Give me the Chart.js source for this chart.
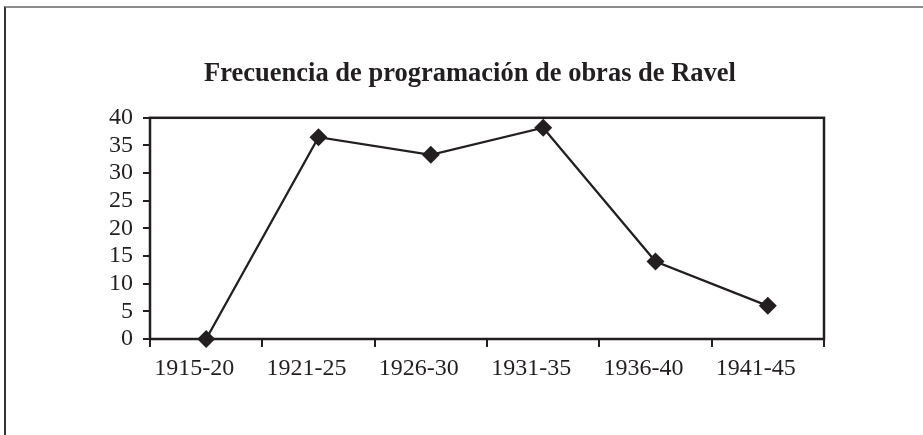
<!DOCTYPE html>
<html>
<head>
<meta charset="utf-8">
<script src="https://cdn.jsdelivr.net/npm/chart.js@4"></script>
<style>
  html, body { margin: 0; padding: 0; background: #ffffff; }
  #wrap { position: relative; width: 923px; height: 435px; }
  #frame { position: absolute; left: 4px; top: 6px; right: 0; bottom: 0;
           border-top: 2px solid #8c8c8c; border-left: 2px solid #333333; }
  canvas { position: absolute; left: 0; top: 0; }
</style>
</head>
<body>
<div id="wrap">
  <div id="frame"></div>
  <canvas id="c" width="923" height="435"></canvas>
</div>
<script>
const titleText = 'Frecuencia de programación de obras de Ravel';
const categories = ['1915-20', '1921-25', '1926-30', '1931-35', '1936-40', '1941-45'];
const frequencies = [0, 36.5, 33.3, 38.2, 14, 6];
const yMin = 0;
const yMax = 40;
const yStep = 5;

const ink = '#231f20';
const serif = "'Liberation Serif', 'Times New Roman', serif";

const framePlugin = {
  id: 'plotFrame',
  beforeDatasetsDraw(chart) {
    const a = chart.chartArea;
    const ctx = chart.ctx;
    ctx.save();
    ctx.strokeStyle = ink;
    ctx.lineWidth = 2.5;
    ctx.strokeRect(a.left, a.top, a.right - a.left, a.bottom - a.top);
    ctx.restore();
  }
};

new Chart(document.getElementById('c'), {
  type: 'line',
  data: {
    labels: categories,
    datasets: [{
      data: frequencies,
      yAxisID: 'y',
      borderColor: ink,
      borderWidth: 2.3,
      backgroundColor: ink,
      pointStyle: 'rectRot',
      pointRadius: 9,
      pointHoverRadius: 9,
      pointBackgroundColor: ink,
      pointBorderColor: ink,
      pointBorderWidth: 0,
      tension: 0,
      fill: false,
      clip: false
    }]
  },
  options: {
    responsive: false,
    animation: false,
    devicePixelRatio: 1,
    layout: { padding: { left: 100, right: 83, top: 0, bottom: 36 } },
    plugins: {
      legend: { display: false },
      tooltip: { enabled: false },
      title: {
        display: true,
        text: titleText,
        color: ink,
        font: { family: serif, size: 26.5, weight: 'bold', lineHeight: 1.2 },
        padding: { top: 58, bottom: 28 }
      }
    },
    scales: {
      x: {
        type: 'category',
        offset: true,
        border: { display: false },
        grid: {
          offset: true,
          drawOnChartArea: false,
          drawTicks: true,
          tickLength: 8,
          color: ink,
          lineWidth: 2
        },
        ticks: {
          color: ink,
          font: { family: serif, size: 24 },
          padding: 7,
          labelOffset: -12,
          maxRotation: 0,
          autoSkip: false
        },
        afterFit(scale) { scale.height = 60; }
      },
      y: {
        position: 'left',
        min: yMin,
        max: yMax,
        border: { display: false },
        grid: {
          drawOnChartArea: false,
          drawTicks: true,
          tickLength: 7,
          color: ink,
          lineWidth: 2
        },
        ticks: {
          stepSize: yStep,
          autoSkip: false,
          color: ink,
          font: { family: serif, size: 24 },
          padding: 10
        },
        afterFit(scale) { scale.width = 50; }
      },
      yRight: {
        position: 'right',
        min: yMin,
        max: yMax,
        border: { display: false },
        grid: { display: false },
        ticks: { display: false },
        afterFit(scale) { scale.width = 16; }
      }
    }
  },
  plugins: [framePlugin]
});
</script>
</body>
</html>
